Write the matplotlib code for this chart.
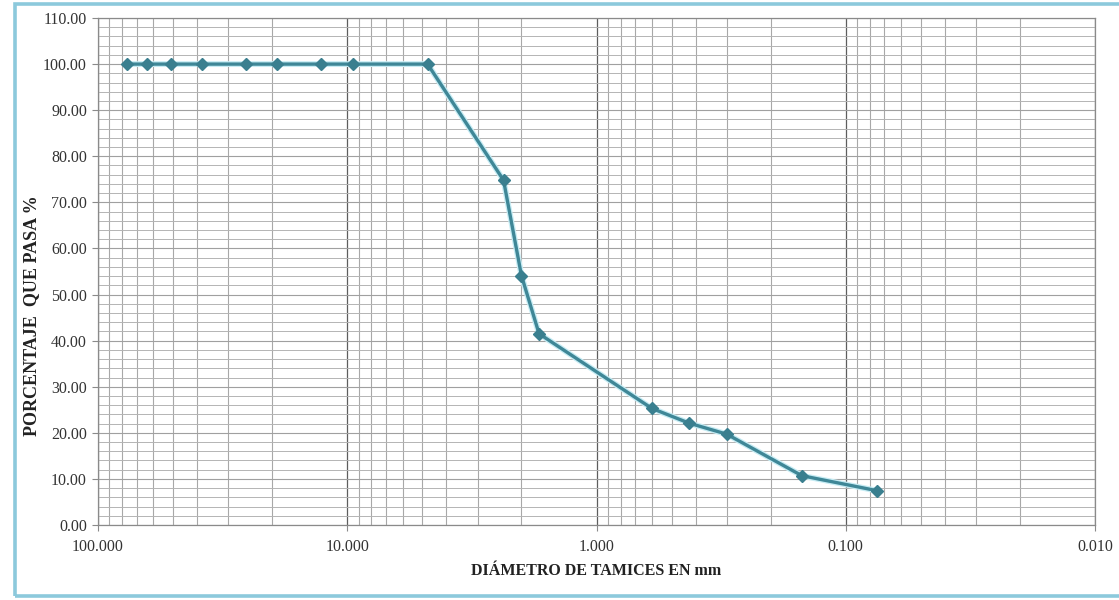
import matplotlib
matplotlib.use("Agg")
import matplotlib.pyplot as plt
import matplotlib.patheffects as pe
from matplotlib.patches import Rectangle
from matplotlib.ticker import FixedLocator, LogLocator, FuncFormatter, NullFormatter

# Sieve openings (mm) and cumulative percent passing
diametro_mm = [76.2, 63.5, 50.8, 38.1, 25.4, 19.05, 12.7, 9.525,
               4.76, 2.36, 2.00, 1.70, 0.600, 0.425, 0.300, 0.150, 0.075]
pasa_pct = [100.0, 100.0, 100.0, 100.0, 100.0, 100.0, 100.0, 100.0,
            100.0, 74.8, 54.1, 41.5, 25.3, 22.1, 19.7, 10.7, 7.45]

x_ticks = [100, 10, 1, 0.1, 0.01]
x_tick_labels = ["100.000", "10.000", "1.000", "0.100", "0.010"]
y_ticks = list(range(0, 111, 10))

plt.rcParams["font.family"] = ["Liberation Serif", "DejaVu Serif"]

fig = plt.figure(figsize=(11.19, 6.0), dpi=100)
fig.patch.set_facecolor("white")

# light blue frame around the chart area
fig.patches.append(Rectangle((15 / 1119, 4 / 600), 1.0, 592 / 600,
                             transform=fig.transFigure, fill=False,
                             edgecolor="#8cc9dc", linewidth=2.6, zorder=0))

ax = fig.add_axes([98 / 1119, 75 / 600, 997 / 1119, 507 / 600])
ax.set_xscale("log")
ax.set_xlim(100, 0.01)
ax.set_ylim(0, 110)

ax.xaxis.set_major_locator(FixedLocator(x_ticks))
ax.xaxis.set_major_formatter(FuncFormatter(
    lambda v, p: x_tick_labels[x_ticks.index(v)] if v in x_ticks else ""))
ax.xaxis.set_minor_locator(LogLocator(base=10, subs=range(2, 10), numticks=20))
ax.xaxis.set_minor_formatter(NullFormatter())

ax.yaxis.set_major_locator(FixedLocator(y_ticks))
ax.yaxis.set_major_formatter(FuncFormatter(lambda v, p: f"{v:.2f}"))
ax.yaxis.set_minor_locator(FixedLocator([v for v in range(0, 111, 2) if v % 10]))

ax.grid(which="major", axis="x", color="#5e5e5e", linewidth=0.9)
ax.grid(which="minor", axis="x", color="#a8a8a8", linewidth=0.8)
ax.grid(which="major", axis="y", color="#a0a0a0", linewidth=0.8)
ax.grid(which="minor", axis="y", color="#b4b4b4", linewidth=0.7)
ax.set_axisbelow(True)

for side in ["top", "right", "left", "bottom"]:
    ax.spines[side].set_color("#8a8a8a")
    ax.spines[side].set_linewidth(0.9)

ax.tick_params(axis="both", which="major", labelsize=11.5, colors="#8a8a8a",
               labelcolor="#333333", length=4, width=0.8)
ax.tick_params(axis="both", which="minor", length=0)
ax.tick_params(axis="y", pad=4)
ax.tick_params(axis="x", pad=6)

# grading curve with a soft halo, then the diamond markers on top
ax.plot(diametro_mm, pasa_pct, color="#3f8797", linewidth=2.4, zorder=4,
        path_effects=[pe.Stroke(linewidth=4.2, foreground="#c6ecf4"), pe.Normal()])
ax.plot(diametro_mm, pasa_pct, linestyle="none", marker="D", markersize=6.5,
        markerfacecolor="#3a7f8f", markeredgecolor="#3a7f8f", zorder=5)

ax.set_xlabel("DIÁMETRO DE TAMICES EN mm", fontsize=11.5, fontweight="bold",
              color="#222222", labelpad=6)
ax.set_ylabel("PORCENTAJE  QUE PASA %", fontsize=13, fontweight="bold",
              color="#222222")
ax.yaxis.set_label_coords(-0.058, 0.412)

fig.savefig("out.png", dpi=100, facecolor="white")
